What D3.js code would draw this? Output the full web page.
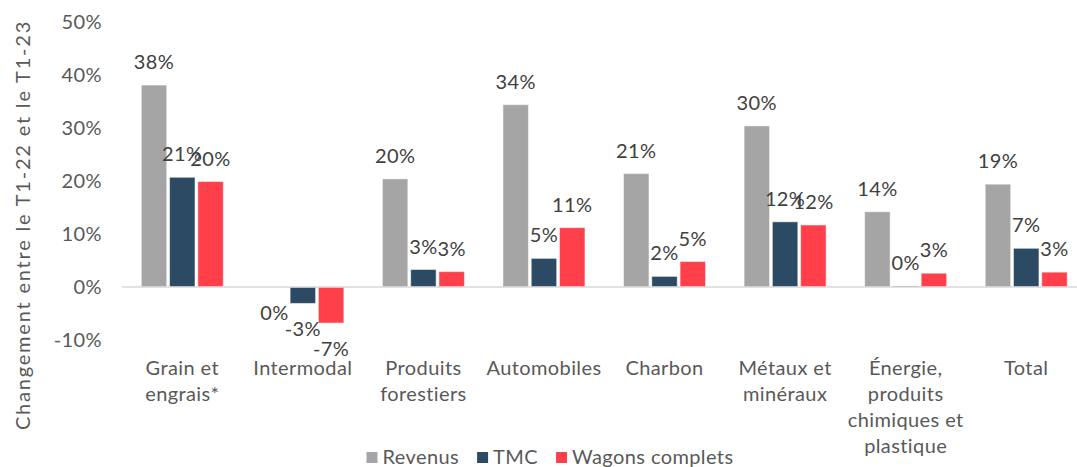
<!DOCTYPE html>
<html>
<head>
<meta charset="utf-8">
<script src="https://cdn.jsdelivr.net/npm/d3@7"></script>
<style>
  body { margin: 0; background: #fff; }
  svg text { font-family: Lato, "Open Sans", sans-serif; font-size: 20px; letter-spacing: 0.4px; }
</style>
</head>
<body>
<svg id="chart"></svg>
<script>
// categories (each one can wrap over several lines)
var categories = [
  ["Grain et", "engrais*"],
  ["Intermodal"],
  ["Produits", "forestiers"],
  ["Automobiles"],
  ["Charbon"],
  ["Métaux et", "minéraux"],
  ["Énergie,", "produits", "chimiques et", "plastique"],
  ["Total"]
];
var seriesNames = ["Revenus", "TMC", "Wagons complets"];
var revenus = [0.381, 0.0, 0.204, 0.344, 0.214, 0.304, 0.142, 0.194];
var tmc     = [0.207, -0.031, 0.033, 0.054, 0.020, 0.123, 0.002, 0.073];
var wagons  = [0.199, -0.068, 0.029, 0.112, 0.048, 0.117, 0.026, 0.028];
var yTicks = [-0.1, 0, 0.1, 0.2, 0.3, 0.4, 0.5];
var colors = ["#a5a5a5", "#2c4a63", "#ff3f4a"];

var W = 1077, H = 467;
var svg = d3.select("#chart").attr("width", W).attr("height", H);

var allSeries = [revenus, tmc, wagons];
var rows = [];
categories.forEach(function(c, i) {
  allSeries.forEach(function(s, j) {
    rows.push({cat: i, s: j, v: s[i]});
  });
});

var x = d3.scaleBand()
  .domain(d3.range(categories.length))
  .range([122, 1086.5])
  .paddingInner(0.32)
  .paddingOuter(0.16);
var xs = d3.scaleBand()
  .domain(d3.range(3))
  .range([0, x.bandwidth()])
  .paddingInner(0.1);
var y = d3.scaleLinear().domain([-0.1, 0.5]).range([340, 22]);

// plain hyphen for negatives, like the original
var pct = function(v) { return Math.round(v * 100) + "%"; };

// y tick labels, no axis line
var yAxis = svg.append("g")
  .attr("transform", "translate(102,0)")
  .call(d3.axisLeft(y).tickValues(yTicks).tickFormat(pct).tickSize(0).tickPadding(0));
yAxis.select(".domain").remove();
yAxis.selectAll("text")
  .attr("fill", "#595959")
  .style("font-size", "20px")
  .style("font-family", "Lato, sans-serif");

// bars
svg.append("g").selectAll("rect.bar")
  .data(rows)
  .enter().append("rect")
  .attr("class", "bar")
  .attr("x", function(d) { return x(d.cat) + xs(d.s); })
  .attr("width", xs.bandwidth())
  .attr("y", function(d) { return y(Math.max(0, d.v)); })
  .attr("height", function(d) { return Math.abs(y(d.v) - y(0)); })
  .attr("fill", function(d) { return colors[d.s]; })
  .attr("stroke", "#ffffff")
  .attr("stroke-opacity", 0.5)
  .attr("stroke-width", 1);

// zero line
svg.append("line")
  .attr("x1", 122).attr("x2", W)
  .attr("y1", y(0)).attr("y2", y(0))
  .attr("stroke", "#d9d9d9")
  .attr("stroke-width", 1.5);

// data labels
svg.append("g").selectAll("text.bartext")
  .data(rows)
  .enter().append("text")
  .attr("class", "bartext")
  .attr("x", function(d) { return x(d.cat) + xs(d.s) + xs.bandwidth() / 2; })
  .attr("y", function(d) {
    if (d.v > 0) return y(d.v) - 16;
    return y(d.v) + 33;
  })
  .attr("text-anchor", "middle")
  .attr("fill", "#404040")
  .text(function(d) { return pct(d.v); });

// category labels
var cl = svg.append("g").selectAll("text.cat")
  .data(categories)
  .enter().append("text")
  .attr("class", "cat")
  .attr("text-anchor", "middle")
  .attr("fill", "#595959");
cl.selectAll("tspan")
  .data(function(d, i) { return d.map(function(t) { return {t: t, i: i}; }); })
  .enter().append("tspan")
  .attr("x", function(d) { return x(d.i) + x.bandwidth() / 2; })
  .attr("y", function(d, k) { return 375 + k * 26; })
  .text(function(d) { return d.t; });

// y title
svg.append("text")
  .attr("transform", "translate(30,225) rotate(-90)")
  .attr("text-anchor", "middle")
  .attr("fill", "#595959")
  .style("letter-spacing", "1.8px")
  .text("Changement entre le T1-22 et le T1-23");

// legend
var leg = svg.append("g");
var lx = 0;
seriesNames.forEach(function(n, i) {
  var g = leg.append("g").attr("transform", "translate(" + lx + ",0)");
  g.append("rect").attr("x", 0).attr("y", 452).attr("width", 11).attr("height", 11).attr("fill", colors[i]);
  var t = g.append("text").attr("x", 16).attr("y", 464)
    .attr("fill", "#595959").text(n);
  lx += 16 + t.node().getComputedTextLength() + 18;
});
lx -= 18;
leg.attr("transform", "translate(" + (550 - lx / 2) + ",0)");
</script>
</body>
</html>
